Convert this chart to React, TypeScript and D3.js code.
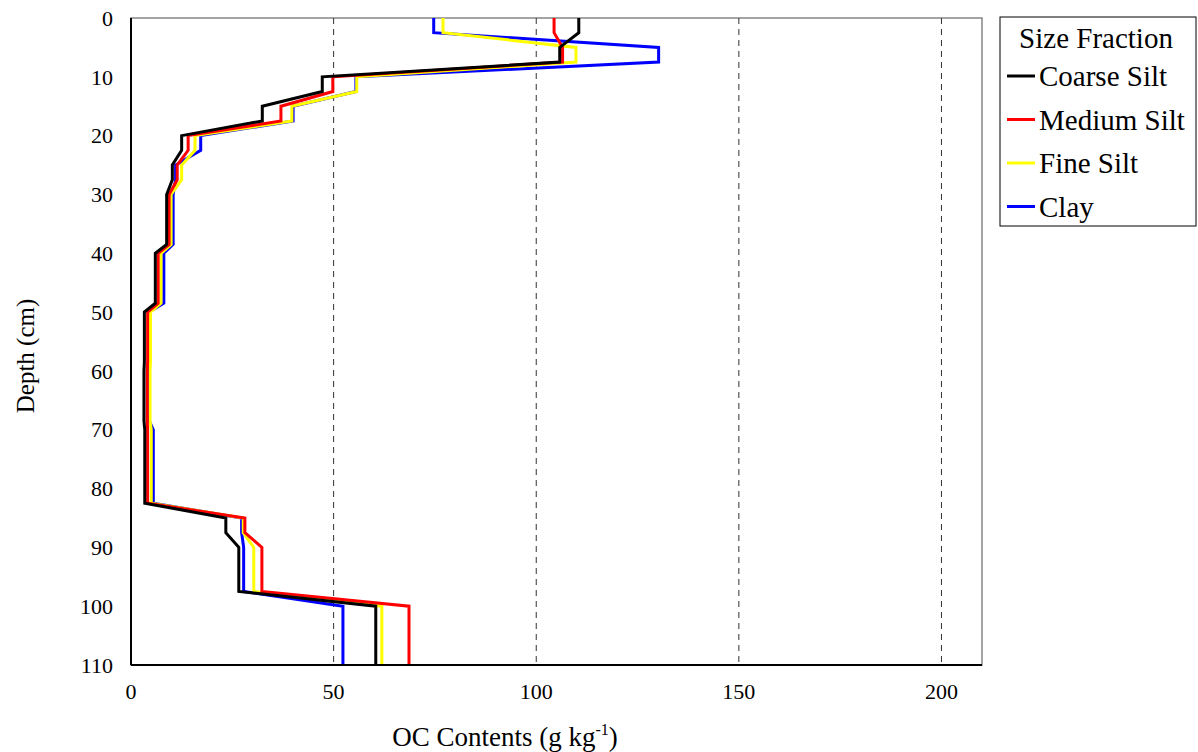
import React from "react";
import * as d3 from "d3";

const depths = [0, 2.5, 5, 7.5, 10, 12.5, 15, 17.5, 20, 22.5, 25, 27.5, 30, 38.5, 40, 48.5, 50, 58.5, 60, 68.5, 70, 82.5, 85, 87.5, 90, 97.5, 100, 110];

const coarseSilt = [110.5, 110.5, 105.8, 105.8, 47.2, 47.2, 32.4, 32.4, 12.5, 12.5, 10.2, 10.2, 8.8, 8.8, 6.0, 6.0, 3.3, 3.3, 3.2, 3.2, 3.4, 3.4, 23.4, 23.4, 26.6, 26.6, 60.4, 60.4];
const mediumSilt = [104.4, 104.4, 106.5, 106.5, 49.8, 49.8, 37.0, 37.0, 14.1, 14.1, 11.4, 11.4, 9.4, 9.4, 6.7, 6.7, 4.1, 4.1, 4.0, 4.0, 4.1, 4.1, 28.1, 28.1, 32.3, 32.3, 68.6, 68.6];
const fineSilt = [77.0, 77.0, 109.8, 109.8, 55.7, 55.7, 39.7, 39.7, 15.8, 15.8, 12.5, 12.5, 9.9, 9.9, 7.4, 7.4, 4.8, 4.8, 4.7, 4.7, 5.0, 5.0, 27.7, 27.7, 30.3, 30.3, 61.9, 61.9];
const clay = [74.7, 74.7, 130.2, 130.2, 55.5, 55.5, 40.0, 40.0, 17.2, 17.2, 11.0, 11.0, 10.4, 10.4, 8.1, 8.1, 4.5, 4.5, 4.5, 4.5, 5.5, 5.5, 27.3, 27.3, 27.8, 27.8, 52.3, 52.3];

const seriesNames = ["Coarse Silt", "Medium Silt", "Fine Silt", "Clay"];
const seriesColors = ["#000000", "#ff0000", "#ffff00", "#0000ff"];
const seriesValues = [coarseSilt, mediumSilt, fineSilt, clay];

const xTicks = [0, 50, 100, 150, 200];
const yTicks = [0, 10, 20, 30, 40, 50, 60, 70, 80, 90, 100, 110];
const gridValues = [50, 100, 150, 200];

const W = 1198;
const H = 752;
const FONT = '"Liberation Serif", "Times New Roman", serif';

export default function App() {
  const left = 131, right = 982, top = 18, bottom = 665;
  const x = d3.scaleLinear().domain([0, 210]).range([left, right]);
  const y = d3.scaleLinear().domain([0, 110]).range([top, bottom]);

  const line = d3
    .line<[number, number]>()
    .x((p) => x(p[0]))
    .y((p) => y(p[1]));

  const drawOrder = [3, 2, 1, 0];

  return (
    <svg
      width={W}
      height={H}
      style={{ position: "absolute", left: 0, top: 0, background: "#fff" }}
      fontFamily={FONT}
    >
      <rect x={0} y={0} width={W} height={H} fill="#fff" />
      {/* plot frame */}
      <rect x={left} y={top} width={right - left} height={bottom - top} fill="none" stroke="#868686" strokeWidth={1.5} />
      {/* grid lines */}
      {gridValues.map((g) => (
        <line key={g} x1={x(g)} x2={x(g)} y1={top} y2={bottom} stroke="#333" strokeWidth={1} strokeDasharray="6,5" />
      ))}
      {/* series */}
      {drawOrder.map((i) => (
        <path
          key={seriesNames[i]}
          d={line(depths.map((d, k) => [seriesValues[i][k], d]) as [number, number][]) || ""}
          fill="none"
          stroke={seriesColors[i]}
          strokeWidth={3}
          strokeLinejoin="miter"
        />
      ))}
      {/* axes */}
      <line x1={left} x2={left} y1={top} y2={bottom} stroke="#000" strokeWidth={2} />
      <line x1={left} x2={right} y1={bottom} y2={bottom} stroke="#000" strokeWidth={2} />
      {yTicks.map((t) => (
        <text key={t} x={113} y={y(t)} dy="0.35em" textAnchor="end" fontSize={22} fill="#000">
          {t}
        </text>
      ))}
      {xTicks.map((t) => (
        <text key={t} x={x(t)} y={691} dy="0.35em" textAnchor="middle" fontSize={22} fill="#000">
          {t}
        </text>
      ))}
      <text x={505} y={746} textAnchor="middle" fontSize={27} fill="#000">
        OC Contents (g kg
        <tspan fontSize={16} dy={-11}>-1</tspan>
        <tspan dy={11}>)</tspan>
      </text>
      <text transform={`translate(34,356) rotate(-90)`} textAnchor="middle" fontSize={25} fill="#000">
        Depth (cm)
      </text>
      {/* legend */}
      <rect x={1000} y={17} width={196} height={209} fill="#fff" stroke="#000" strokeWidth={1} />
      <text x={1096} y={38} dy="0.35em" textAnchor="middle" fontSize={29} fill="#000">
        Size Fraction
      </text>
      {seriesNames.map((n, i) => {
        const ly = 76 + i * 43.5;
        return (
          <g key={n}>
            <line x1={1007} x2={1035} y1={ly} y2={ly} stroke={seriesColors[i]} strokeWidth={3} />
            <text x={1039} y={ly} dy="0.35em" fontSize={29} fill="#000">
              {n}
            </text>
          </g>
        );
      })}
    </svg>
  );
}
